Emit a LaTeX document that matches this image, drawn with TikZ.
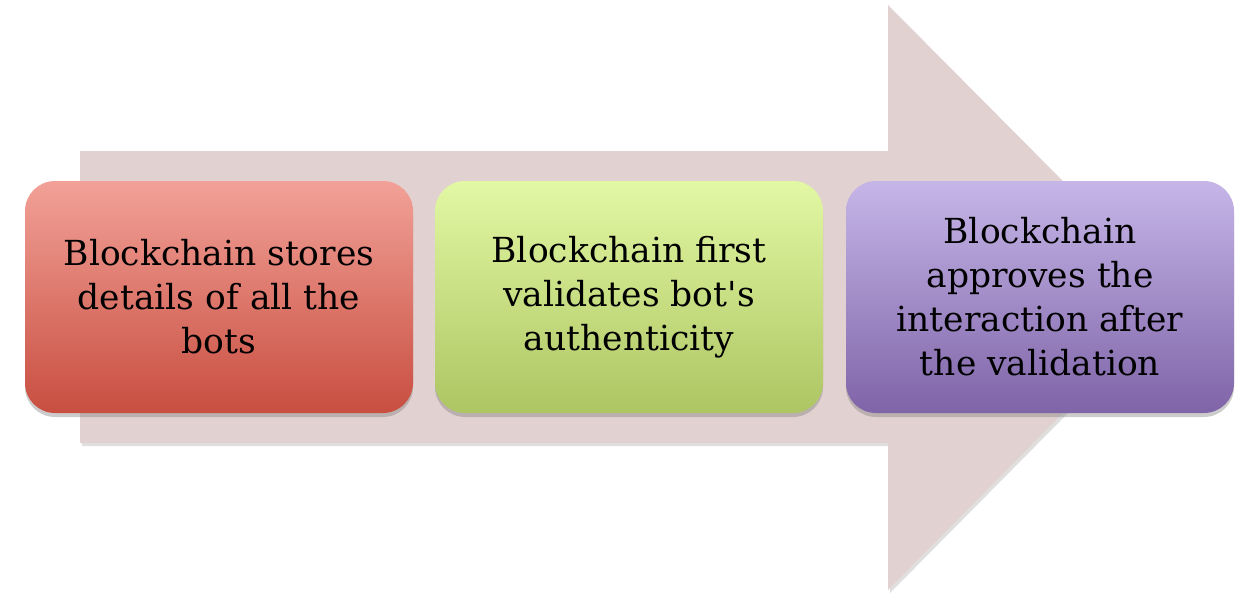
\documentclass[tikz,border=0pt]{standalone}
\usepackage{fontspec}
\setmainfont{DejaVu Serif}
\usetikzlibrary{shadows}
\definecolor{arrowfill}{HTML}{E2D1D1}
\definecolor{redtop}{HTML}{F2A198}
\definecolor{redbot}{HTML}{C84E40}
\definecolor{greentop}{HTML}{E2F8A4}
\definecolor{greenbot}{HTML}{ADC562}
\definecolor{purptop}{HTML}{C6B6E8}
\definecolor{purpbot}{HTML}{7F64A8}
\tikzset{
  stepbox/.style={rounded corners=30pt, minimum width=388pt, minimum height=232pt,
    align=center, inner sep=0pt,
    font=\fontsize{34.5}{44}\selectfont,
    drop shadow={opacity=0.4, shadow xshift=0pt, shadow yshift=-4pt}},
  bigarrow/.style={fill=arrowfill, drop shadow={opacity=0.25, shadow xshift=2pt, shadow yshift=-3pt}}
}
\begin{document}
\begin{tikzpicture}[x=1pt,y=1pt]
\useasboundingbox (0,0) rectangle (1254,-610);
\path[bigarrow] (80,-151) -- (888,-151) -- (888,-5) -- (1178,-297) -- (888,-590) -- (888,-443) -- (80,-443) -- cycle;
\node[stepbox, top color=redtop, bottom color=redbot] (s1) at (219,-297)
  {Blockchain stores\\details of all the\\bots};
\node[stepbox, top color=greentop, bottom color=greenbot] (s2) at (629,-297)
  {Blockchain first\\validates bot\textquotesingle s\\authenticity};
\node[stepbox, top color=purptop, bottom color=purpbot] (s3) at (1040,-297)
  {Blockchain\\approves the\\interaction after\\the validation};
\end{tikzpicture}
\end{document}
